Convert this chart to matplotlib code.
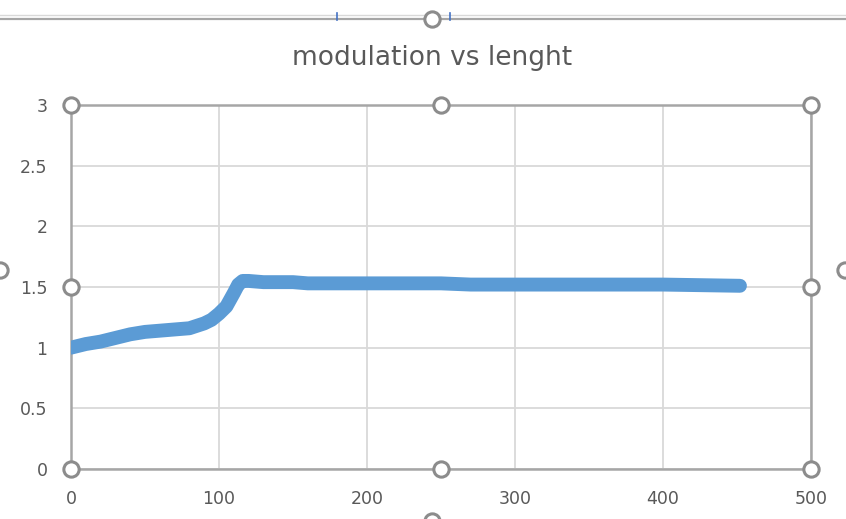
import matplotlib
matplotlib.use("Agg")
import matplotlib.pyplot as plt
from matplotlib.lines import Line2D

# curve data
length = [0, 10, 20, 30, 40, 50, 60, 70, 80, 90, 95, 100, 105, 110, 113, 116,
          120, 130, 150, 160, 200, 250, 270, 300, 350, 400, 452]
modulation = [1.00, 1.03, 1.05, 1.08, 1.11, 1.13, 1.14, 1.15, 1.16, 1.20, 1.23,
              1.28, 1.34, 1.45, 1.52, 1.55, 1.55, 1.54, 1.54, 1.53, 1.53, 1.53,
              1.52, 1.52, 1.52, 1.52, 1.51]

x_ticks = [0, 100, 200, 300, 400, 500]
y_ticks = [0, 0.5, 1, 1.5, 2, 2.5, 3]
y_labels = ["0", "0.5", "1", "1.5", "2", "2.5", "3"]

W, H = 846, 519
GRAY = "#595959"
HANDLE = "#8c8c8c"

fig = plt.figure(figsize=(W / 100, H / 100), dpi=100)
ax = fig.add_axes([71 / W, (H - 469) / H, (811 - 71) / W, (469 - 105) / H])

ax.plot(length, modulation, color="#5b9bd5", lw=10, solid_capstyle="round",
        solid_joinstyle="round", zorder=3)

ax.set_xlim(0, 500)
ax.set_ylim(0, 3)
ax.set_xticks(x_ticks)
ax.set_yticks(y_ticks)
ax.set_yticklabels(y_labels)
ax.grid(True, color="#d9d9d9", lw=1.3)
ax.set_axisbelow(True)
ax.tick_params(length=0, labelsize=12.5, labelcolor=GRAY)
ax.tick_params(axis="x", pad=15)
ax.tick_params(axis="y", pad=17)
for s in ax.spines.values():
    s.set_color("#a6a6a6")
    s.set_linewidth(1.8)

# selection handles on the plot area
hx = [0, 250, 500, 0, 500, 0, 250, 500]
hy = [0, 0, 0, 1.5, 1.5, 3, 3, 3]
ax.plot(hx, hy, ls="none", marker="o", ms=11, mfc="white", mec=HANDLE,
        mew=2.2, clip_on=False, zorder=5)

fig.text(432 / W, 1 - 58 / H, "modulation vs lenght", ha="center", va="center",
         fontsize=19, color=GRAY)

# chart area frame above and handles at the edges
fig.add_artist(Line2D([0, 1], [1 - 15 / H, 1 - 15 / H], color="#d9d9d9", lw=1))
fig.add_artist(Line2D([0, 1], [1 - 19 / H, 1 - 19 / H], color="#a6a6a6", lw=1.6))
for px in [337, 450]:
    fig.add_artist(Line2D([px / W, px / W], [1 - 13 / H, 1 - 20 / H],
                          color="#4472c4", lw=1.2))
for px, py in [(432, 19), (0, 270), (845, 270), (432, 521)]:
    fig.add_artist(Line2D([px / W], [1 - py / H], ls="none", marker="o", ms=11,
                          mfc="white", mec=HANDLE, mew=2.2))

fig.savefig("out.png", dpi=100)
